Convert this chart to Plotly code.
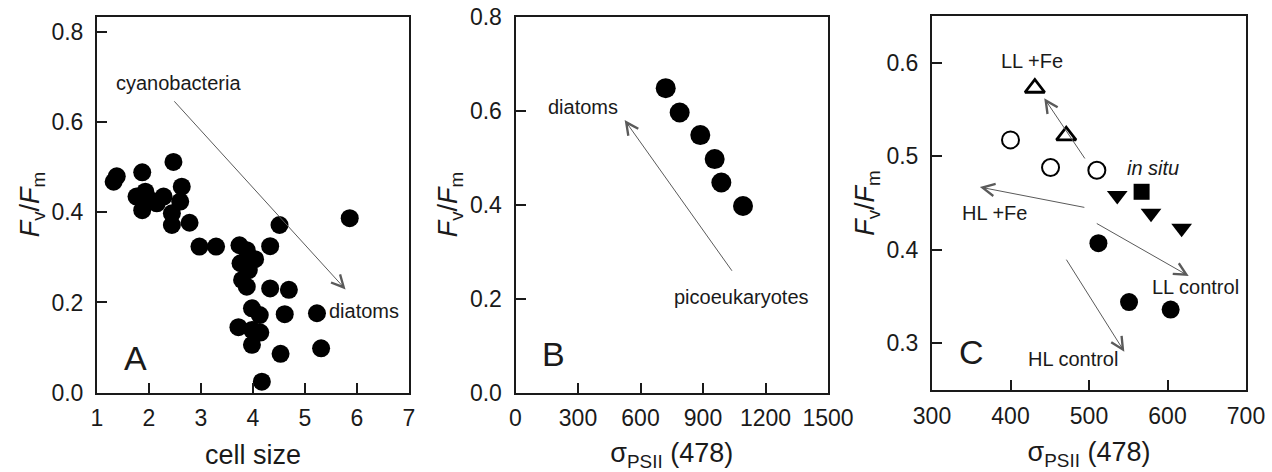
import plotly.graph_objects as go

# ---------------- data ----------------
# Panel A: cell size vs Fv/Fm
a_size = [1.32, 1.38, 1.87, 1.76, 1.93, 1.87, 2.03, 2.15, 2.28, 2.47, 2.63, 2.60, 2.44, 2.44,
          2.78, 2.97, 3.29, 3.74, 3.88, 3.76, 4.04, 3.92, 3.79, 3.88, 4.33, 4.51, 4.33, 4.69,
          4.61, 3.98, 4.13, 3.72, 3.98, 4.14, 3.98, 4.53, 4.17, 5.23, 5.31, 5.86]
a_fvfm = [0.468, 0.480, 0.489, 0.435, 0.446, 0.405, 0.427, 0.420, 0.435, 0.512, 0.457, 0.424,
          0.398, 0.372, 0.377, 0.324, 0.324, 0.327, 0.316, 0.287, 0.296, 0.272, 0.250, 0.235,
          0.325, 0.372, 0.231, 0.228, 0.174, 0.187, 0.172, 0.145, 0.139, 0.133, 0.106, 0.086,
          0.024, 0.176, 0.098, 0.387]

# Panel B: sigma PSII vs Fv/Fm
b_sigma = [721, 788, 887, 956, 988, 1092]
b_fvfm = [0.648, 0.596, 0.548, 0.497, 0.447, 0.397]

# Panel C groups
c_lltri_sigma = [431, 471]          # LL +Fe (open triangles)
c_lltri_fvfm = [0.573, 0.522]
c_open_sigma = [400, 451, 510]      # HL +Fe (open circles)
c_open_fvfm = [0.5175, 0.488, 0.485]
c_down_sigma = [536, 579, 618]      # LL control (filled down triangles)
c_down_fvfm = [0.458, 0.439, 0.423]
c_situ_sigma = [567]                # in situ (filled square)
c_situ_fvfm = [0.462]
c_fill_sigma = [512, 551, 604]      # HL control (filled circles)
c_fill_fvfm = [0.407, 0.344, 0.336]

# tick values
a_xticks = [1, 2, 3, 4, 5, 6, 7]
a_yticks = [0.0, 0.2, 0.4, 0.6, 0.8]
b_xticks = [0, 300, 600, 900, 1200, 1500]
b_yticks = [0.0, 0.2, 0.4, 0.6, 0.8]
c_xticks = [300, 400, 500, 600, 700]
c_yticks = [0.3, 0.4, 0.5, 0.6]

# arrows: (tail_x, tail_y, head_x, head_y)
arrows_a = [(2.46, 0.650, 5.78, 0.229)]
arrows_b = [(1044, 0.256, 524, 0.580)]
arrows_c = [(496, 0.496, 443, 0.562),
            (496, 0.445, 361, 0.467),
            (508, 0.429, 627, 0.372),
            (470, 0.391, 545, 0.291)]

# text labels: (x, y, text, size)
labels_a = [(2.56, 0.687, "cyanobacteria", 20), (6.14, 0.182, "diatoms", 20), (1.74, 0.076, "A", 34)]
labels_b = [(325, 0.608, "diatoms", 20), (1084, 0.204, "picoeukaryotes", 20), (181, 0.082, "B", 34)]
labels_c = [(427, 0.602, "LL +Fe", 20), (380, 0.439, "HL +Fe", 20), (582, 0.487, "<i>in situ</i>", 20),
            (636, 0.360, "LL control", 20), (479, 0.283, "HL control", 20), (350, 0.291, "C", 34)]

FONT = "Liberation Sans, Arial, sans-serif"
TXT = "#1a1a1a"
ARROW = "#5a5a5a"

W, H = 1272, 472

def xdom(left, right):
    return [left / W, right / W]

def ydom(top, bottom):
    return [1 - bottom / H, 1 - top / H]

fig = go.Figure()

def add_scatter(x, y, xa, ya, symbol, size, color="black", linecolor="black", lw=0):
    fig.add_trace(go.Scatter(x=x, y=y, xaxis=xa, yaxis=ya, mode="markers",
                             marker=dict(symbol=symbol, size=size, color=color,
                                         line=dict(color=linecolor, width=lw)),
                             showlegend=False, hoverinfo="x+y"))

add_scatter(a_size, a_fvfm, "x", "y", "circle", 18)
add_scatter(b_sigma, b_fvfm, "x2", "y2", "circle", 20)
add_scatter(c_lltri_sigma, c_lltri_fvfm, "x3", "y3", "triangle-up-open", 17, color="black", lw=2.8)
add_scatter(c_open_sigma, c_open_fvfm, "x3", "y3", "circle-open", 17, color="black", lw=2)
add_scatter(c_down_sigma, c_down_fvfm, "x3", "y3", "triangle-down", 18)
add_scatter(c_situ_sigma, c_situ_fvfm, "x3", "y3", "square", 16)
add_scatter(c_fill_sigma, c_fill_fvfm, "x3", "y3", "circle", 18)

annotations = []
for arrs, xr, yr in [(arrows_a, "x", "y"), (arrows_b, "x2", "y2"), (arrows_c, "x3", "y3")]:
    for tx, ty, hx, hy in arrs:
        annotations.append(dict(x=hx, y=hy, ax=tx, ay=ty, xref=xr, yref=yr, axref=xr, ayref=yr,
                                text="", showarrow=True, arrowhead=5, arrowsize=2.4,
                                arrowwidth=1, arrowcolor=ARROW))
for labs, xr, yr in [(labels_a, "x", "y"), (labels_b, "x2", "y2"), (labels_c, "x3", "y3")]:
    for x, y, t, s in labs:
        annotations.append(dict(x=x, y=y, xref=xr, yref=yr, text=t, showarrow=False,
                                font=dict(size=s, color=TXT, family=FONT)))

ytitle = "<i>F</i><sub>v</sub>/<i>F</i><sub>m</sub>"
xtitle_sigma = "σ<sub>PSII</sub> (478)"

def axis(domain, rng, ticks, title, anchor, tickformat=None, standoff=0, tstand=None):
    t = dict(text=title, font=dict(size=27, color=TXT, family=FONT))
    if tstand is not None:
        t["standoff"] = tstand
    d = dict(domain=domain, range=rng, tickmode="array", tickvals=ticks, anchor=anchor,
             showline=True, linecolor="#1a1a1a", linewidth=2, mirror=True,
             ticks="inside", ticklen=10, tickwidth=1.5, tickcolor="#1a1a1a",
             showgrid=False, zeroline=False, automargin=False,
             ticklabelstandoff=standoff,
             tickfont=dict(size=23, color=TXT, family=FONT),
             title=t)
    if tickformat:
        d["tickformat"] = tickformat
    return d

yd_ab = ydom(16.5, 392.5)
yd_c = ydom(16, 390)
fig.update_layout(
    width=W, height=H,
    margin=dict(l=0, r=0, t=0, b=0),
    paper_bgcolor="white", plot_bgcolor="white",
    font=dict(family=FONT, color=TXT),
    xaxis=axis(xdom(97, 409), [1, 7], a_xticks, "cell size", "y", standoff=4),
    yaxis=axis(yd_ab, [0, 0.835], a_yticks, ytitle, "x", tickformat=".1f", standoff=7, tstand=4),
    xaxis2=axis(xdom(515.5, 828), [0, 1500], b_xticks, xtitle_sigma, "y2", standoff=4),
    yaxis2=axis(yd_ab, [0, 0.8005], b_yticks, ytitle, "x2", tickformat=".1f", standoff=7, tstand=4),
    xaxis3=axis(xdom(932, 1246), [300, 700], c_xticks, xtitle_sigma, "y3", standoff=4),
    yaxis3=axis(yd_c, [0.25, 0.65], c_yticks, ytitle, "x3", tickformat=".1f", standoff=7, tstand=4),
    annotations=annotations,
)

# remove the browser's default page margin so the figure fills the window exactly
fig.write_html("out.html", config={"displayModeBar": False},
               post_script="document.body.style.margin='0';")
